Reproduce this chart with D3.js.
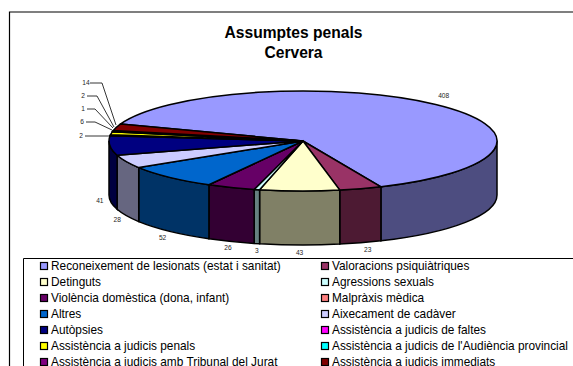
<!DOCTYPE html>
<html>
<head>
    <meta charset="utf-8">
    <title>Assumptes penals</title>
    <script src="https://d3js.org/d3.v7.min.js"></script>
    <style>
        html, body { margin: 0; padding: 0; background: #fff; overflow: hidden; }
        text { font-family: "Liberation Sans", Arial, sans-serif; }
    </style>
</head>
<body>
    <svg id="chart"></svg>

    <script>
        // Chart data
        const categories = [
            "Reconeixement de lesionats (estat i sanitat)", "Valoracions psiquiàtriques",
            "Detinguts", "Agressions sexuals",
            "Violència domèstica (dona, infant)", "Malpràxis mèdica",
            "Altres", "Aixecament de cadàver",
            "Autòpsies", "Assistència a judicis de faltes",
            "Assistència a judicis penals", "Assistència a judicis de l'Audiència provincial",
            "Assistència a judicis amb Tribunal del Jurat", "Assistència a judicis immediats"
        ];
        const values = [408, 23, 43, 3, 26, 0, 52, 28, 41, 2, 6, 1, 2, 14];
        const colors = [
            "#9999ff", "#993366", "#ffffcc", "#ccffff", "#660066", "#ff8080", "#0066cc",
            "#ccccff", "#000080", "#ff00ff", "#ffff00", "#00ffff", "#800080", "#800000"
        ];
        const titleLines = ["Assumptes penals", "Cervera"];

        const width = 573, height = 366;
        const cx = 303, cy = 141, rx = 194, ry = 50, depth = 54;

        const svg = d3.select("#chart")
            .attr("width", width)
            .attr("height", height)
            .style("display", "block");

        // Frame of the chart area, it runs off the picture on the right and below
        svg.append("path")
            .attr("d", `M${width},12H9.5V${height}`)
            .attr("fill", "none")
            .attr("stroke", "#000")
            .attr("stroke-width", 1.2);

        svg.append("g").selectAll("text")
            .data(titleLines)
            .join("text")
            .attr("x", 293.5)
            .attr("y", (d, i) => 38 + i * 20)
            .attr("text-anchor", "middle")
            .style("font-size", "15.6px")
            .style("font-weight", "bold")
            .text(d => d);

        // Pie layout, clockwise from the start of the first slice
        const startAngle = 290 * Math.PI / 180;
        const slices = d3.pie().sort(null)
            .startAngle(startAngle)
            .endAngle(startAngle + 2 * Math.PI)(values);

        const px = a => cx + rx * Math.sin(a);
        const py = a => cy - ry * Math.cos(a);

        // Wall below a piece of the rim, only the front half of the rim shows
        const wallParts = [];
        slices.forEach((s, i) => {
            for (let k = 0; k < 2; k++) {
                const lo = Math.max(s.startAngle, Math.PI / 2 + k * 2 * Math.PI);
                const hi = Math.min(s.endAngle, 3 * Math.PI / 2 + k * 2 * Math.PI);
                if (hi > lo) wallParts.push({ i, lo, hi });
            }
        });
        const wallPath = d => `M${px(d.lo)},${py(d.lo)}`
            + `A${rx},${ry} 0 0 1 ${px(d.hi)},${py(d.hi)}`
            + `L${px(d.hi)},${py(d.hi) + depth}`
            + `A${rx},${ry} 0 0 0 ${px(d.lo)},${py(d.lo) + depth}Z`;

        svg.append("g").selectAll("path")
            .data(wallParts)
            .join("path")
            .attr("d", wallPath)
            .attr("fill", d => {
                const c = d3.rgb(colors[d.i]);
                return d3.rgb(c.r / 2, c.g / 2, c.b / 2).formatHex();
            })
            .attr("stroke", "#000")
            .attr("stroke-width", 1.5);

        // Top face is a d3 arc squashed into the ellipse
        const arc = d3.arc().innerRadius(0).outerRadius(rx);
        svg.append("g")
            .attr("transform", `translate(${cx},${cy}) scale(1,${ry / rx})`)
            .selectAll("path")
            .data(slices)
            .join("path")
            .attr("d", arc)
            .attr("fill", d => colors[d.index])
            .attr("stroke", "#000")
            .attr("stroke-width", 1.5)
            .attr("vector-effect", "non-scaling-stroke");

        // Value labels, placed around the rim and then nudged like the original
        const labelNudge = {
            0: [8, -9], 1: [7, 7], 2: [0, 8], 3: [0, 7], 4: [-3, 6],
            6: [-7, 6], 7: [-9, 4], 8: [-10, 1]
        };
        // Small slices get stacked labels with leader lines
        const leaders = {
            9: [[81, 136], [87, 136], [110, 136]],
            10: [[82, 122], [95, 122], [112, 130]],
            11: [[83, 109], [95, 109], [113, 128]],
            12: [[83, 96], [97, 96], [114, 127]],
            13: [[86, 83], [102, 83], [116, 125]]
        };

        // The slight opacity keeps the tiny labels on grey antialiasing
        const labels = svg.append("g")
            .style("font-size", "6.6px")
            .style("opacity", 0.99)
            .attr("fill", "#222");

        slices.forEach((s, i) => {
            if (s.value === 0) return;
            const mid = (s.startAngle + s.endAngle) / 2;
            if (leaders[i]) {
                const [t, a, b] = leaders[i];
                labels.append("text")
                    .attr("x", t[0]).attr("y", t[1] + 2.4)
                    .attr("text-anchor", "middle")
                    .text(values[i]);
                labels.append("path")
                    .attr("d", d3.line()([[t[0] + 4, a[1]], a, b]))
                    .attr("fill", "none")
                    .attr("stroke", "#000")
                    .attr("stroke-width", 0.8);
            } else {
                const front = Math.cos(mid) < 0;
                const n = labelNudge[i];
                labels.append("text")
                    .attr("x", px(mid) + n[0])
                    .attr("y", py(mid) + (front ? depth : 0) + n[1] + 2.4)
                    .attr("text-anchor", "middle")
                    .text(values[i]);
            }
        });

        // Legend, two columns filled row by row
        const legendX = d3.scaleOrdinal().domain([0, 1]).range([40, 321]);
        const legendY = d3.scaleLinear().domain([0, 6]).range([266, 362]);

        svg.append("path")
            .attr("d", `M23.5,${height}V258.5H${width}`)
            .attr("fill", "#fff")
            .attr("stroke", "#000");

        const legend = svg.append("g").selectAll("g")
            .data(categories)
            .join("g")
            .attr("transform", (d, i) => `translate(${legendX(i % 2)},${legendY(Math.floor(i / 2))})`);

        legend.append("rect")
            .attr("x", 0.5).attr("y", -3.5)
            .attr("width", 7).attr("height", 7)
            .attr("fill", (d, i) => colors[i])
            .attr("stroke", "#000")
            .attr("stroke-width", 1.2);

        legend.append("text")
            .attr("x", 11)
            .attr("y", 4)
            .style("font-size", "11.85px")
            .text(d => d);
    </script>
</body>
</html>
